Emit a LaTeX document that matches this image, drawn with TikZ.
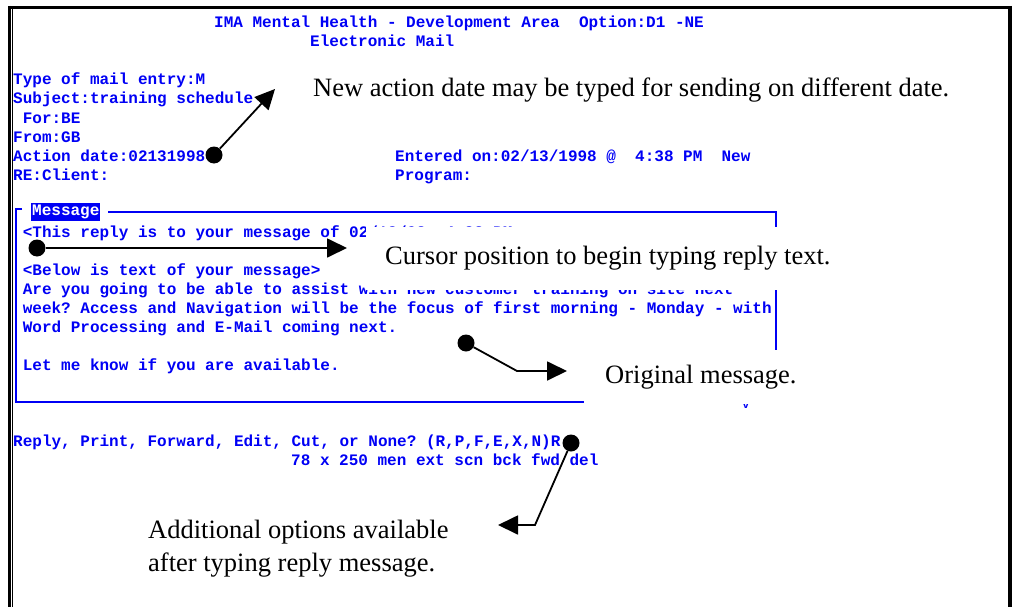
\documentclass[tikz,border=0pt]{standalone}
\usepackage{fontspec}
\setmainfont{Liberation Serif}
\setmonofont{Liberation Mono}
\usetikzlibrary{arrows.meta}
\definecolor{scrblue}{RGB}{0,0,245}
\begin{document}
\begin{tikzpicture}[x=1pt,y=-1pt,
  term/.style={anchor=base west,inner sep=0pt,text=scrblue,font=\ttfamily\bfseries\fontsize{16}{19}\selectfont},
  note/.style={inner sep=0pt,font=\fontsize{26.5}{33}\selectfont},
  dot/.style={circle,fill=black,inner sep=0pt,minimum size=17pt},
  callout/.style={line width=1.8pt,-{Triangle[length=20pt,width=19pt]}},
  scrline/.style={draw=scrblue,line width=2.2pt}]
\useasboundingbox (0,0) rectangle (1016,607);
\draw[line width=3.5pt] (8,7.5) -- (1012,7.5);
\draw[line width=2.5pt] (9.5,6) -- (9.5,607);
\draw[line width=1pt] (12.5,7.5) -- (12.5,607);
\draw[line width=4pt] (1010,6) -- (1010,607);
\node[term] (head) at (214,28) {IMA Mental Health - Development Area\ \ Option:D1 -NE};
\node[term] (title) at (310,47) {Electronic Mail};
\node[term] (type) at (13,85) {Type of mail entry:M};
\node[term] (subj) at (13,104) {Subject:training schedule};
\node[term] (for) at (22.6,123) {For:BE};
\node[term] (from) at (13,142) {From:GB};
\node[term] (action) at (13,161) {Action date:02131998};
\node[term] (entered) at (395,161) {Entered on:02/13/1998 @\ \ 4:38 PM\ \ New};
\node[term] (re) at (13,180) {RE:Client:};
\node[term] (prog) at (395,180) {Program:};
\draw[scrline] (22,209) -- (16,209) -- (16,402) -- (776,402) -- (776,212) -- (108,212);
\node[term,anchor=west,fill=scrblue,text=white,inner xsep=1pt,minimum height=18pt] (msglbl) at (31,212) {Message};
\node[term] (reply) at (22.6,237) {<This reply is to your message of 02/13/98\ \ 4:38 PM>};
\node[term] (below) at (22.6,275) {<Below is text of your message>};
\node[term] (body1) at (22.6,294) {Are you going to be able to assist with new customer training on site next};
\node[term] (body2) at (22.6,313) {week? Access and Navigation will be the focus of first morning - Monday - with};
\node[term] (body3) at (22.6,332) {Word Processing and E-Mail coming next.};
\node[term] (body4) at (22.6,370) {Let me know if you are available.};
\node[term,anchor=center,font=\ttfamily\bfseries\fontsize{11}{11}\selectfont] (more) at (746,406) {v};
\node[term] (prompt) at (13,446) {Reply, Print, Forward, Edit, Cut, or None? (R,P,F,E,X,N)R};
\node[term] (keys) at (291,465) {78 x 250 men ext scn bck fwd del};
\node[note,anchor=base west] (actlbl) at (313,97) {New action date may be typed for sending on different date.};
\node[note,anchor=west,fill=white,inner xsep=19pt,minimum height=63pt] (curlbl) at (366,258.5) {Cursor position to begin typing reply text.};
\node[note,anchor=west,fill=white,inner xsep=21pt,minimum height=54pt] (orglbl) at (584,377) {Original message.};
\node[note,anchor=north west,align=left] (replbl) at (148,520) {Additional options available\\after typing reply message.};
\node[dot] (actdot) at (214,155) {};
\node[dot] (curdot) at (37,248) {};
\node[dot] (orgdot) at (466,343) {};
\node[dot] (repdot) at (571,443) {};
\coordinate (acttip) at (275,89);
\coordinate (curtip) at (347,248);
\coordinate (orgbend) at (517,371);
\coordinate (orgtip) at (567,371);
\coordinate (repbend) at (535,525);
\coordinate (reptip) at (498,525);
\draw[callout] (actdot) -- (acttip);
\draw[callout] (curdot) -- (curtip);
\draw[callout] (orgdot) -- (orgbend) -- (orgtip);
\draw[callout] (repdot) -- (repbend) -- (reptip);
\end{tikzpicture}
\end{document}
